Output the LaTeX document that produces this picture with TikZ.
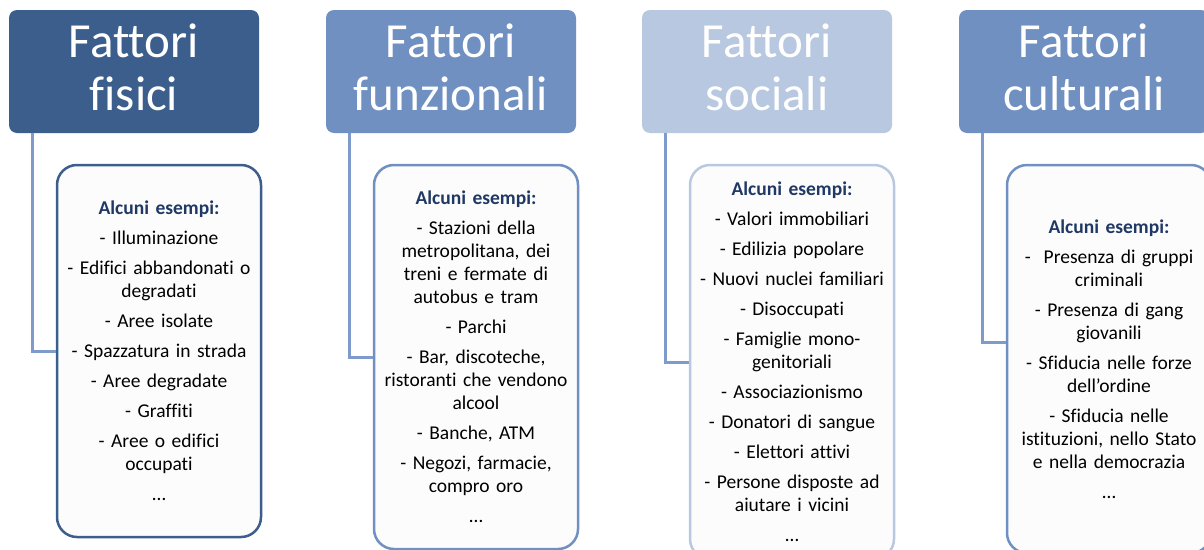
\documentclass[tikz,border=0pt]{standalone}
\usepackage{fontspec}
\setmainfont{Carlito}[Ligatures=NoCommon]
\usepackage{xcolor}
\definecolor{darkblue}{HTML}{3B5E8C}
\definecolor{midblue}{HTML}{7090C2}
\definecolor{paleblue}{HTML}{B9C8E1}
\definecolor{linkblue}{HTML}{7F9BCB}
\definecolor{navy}{HTML}{1F3864}
\definecolor{boxwhite}{HTML}{FCFCFC}
\RequirePackage{tikz}

\begin{document}
\begin{tikzpicture}[x=1pt, y=-1pt,
	header/.style={rounded corners=8pt, minimum width=250pt, minimum height=123pt, inner sep=0pt, text depth=8pt, align=center, text=white, font=\fontsize{49}{53}\selectfont},
	examples/.style={draw, line width=2.5pt, fill=boxwhite, rounded corners=20pt, text width=200pt, inner xsep=2pt, inner ysep=0pt, align=center, font=\fontsize{19.5}{23}\selectfont},
	link/.style={linkblue, line width=3pt}]
				\clip (0,0) rectangle (1204,549);
				% headers
				\node[header, fill=darkblue] (fisici) at (134,71.5) {Fattori\\fisici};
				\node[header, fill=midblue] (funzionali) at (451,71.5) {Fattori\\funzionali};
				\node[header, fill=paleblue] (sociali) at (767,71.5) {Fattori\\sociali};
				\node[header, fill=midblue] (culturali) at (1084,71.5) {Fattori\\culturali};
				% examples
				\node[examples, draw=darkblue, minimum height=372pt] (esfisici) at (159,351) {{\bfseries\color{navy}Alcuni esempi:}\\[7pt]
					- Illuminazione\\[7pt]
					- Edifici abbandonati o\\degradati\\[7pt]
					- Aree isolate\\[7pt]
					- Spazzatura in strada\\[7pt]
					- Aree degradate\\[7pt]
					- Graffiti\\[7pt]
					- Aree o edifici\\occupati\\[7pt]
					…};
				\node[examples, draw=midblue, minimum height=384pt] (esfunzionali) at (476,357) {{\bfseries\color{navy}Alcuni esempi:}\\[7pt]
					- Stazioni della\\metropolitana, dei\\treni e fermate di\\autobus e tram\\[7pt]
					- Parchi\\[7pt]
					- Bar, discoteche,\\ristoranti che vendono\\alcool\\[7pt]
					- Banche, ATM\\[7pt]
					- Negozi, farmacie,\\compro oro\\[7pt]
					…};
				\node[examples, draw=paleblue, minimum height=394pt] (essociali) at (792,362) {{\bfseries\color{navy}Alcuni esempi:}\\[7pt]
					- Valori immobiliari\\[7pt]
					- Edilizia popolare\\[7pt]
					- Nuovi nuclei familiari\\[7pt]
					- Disoccupati\\[7pt]
					- Famiglie mono-\\genitoriali\\[7pt]
					- Associazionismo\\[7pt]
					- Donatori di sangue\\[7pt]
					- Elettori attivi\\[7pt]
					- Persone disposte ad\\aiutare i vicini\\[7pt]
					…};
				\node[examples, draw=midblue, minimum height=388pt] (esculturali) at (1109,359) {{\bfseries\color{navy}Alcuni esempi:}\\[7pt]
					-~ Presenza di gruppi\\criminali\\[7pt]
					- Presenza di gang\\giovanili\\[7pt]
					- Sfiducia nelle forze\\dell’ordine\\[7pt]
					- Sfiducia nelle\\istituzioni, nello Stato\\e nella democrazia\\[7pt]
					…};
				% connectors
				\draw[link] ([xshift=24pt]fisici.south west) |- (esfisici.west);
				\draw[link] ([xshift=24pt]funzionali.south west) |- (esfunzionali.west);
				\draw[link] ([xshift=24pt]sociali.south west) |- (essociali.west);
				\draw[link] ([xshift=24pt]culturali.south west) |- ([yshift=17pt]esculturali.west);
			\end{tikzpicture}
\end{document}
